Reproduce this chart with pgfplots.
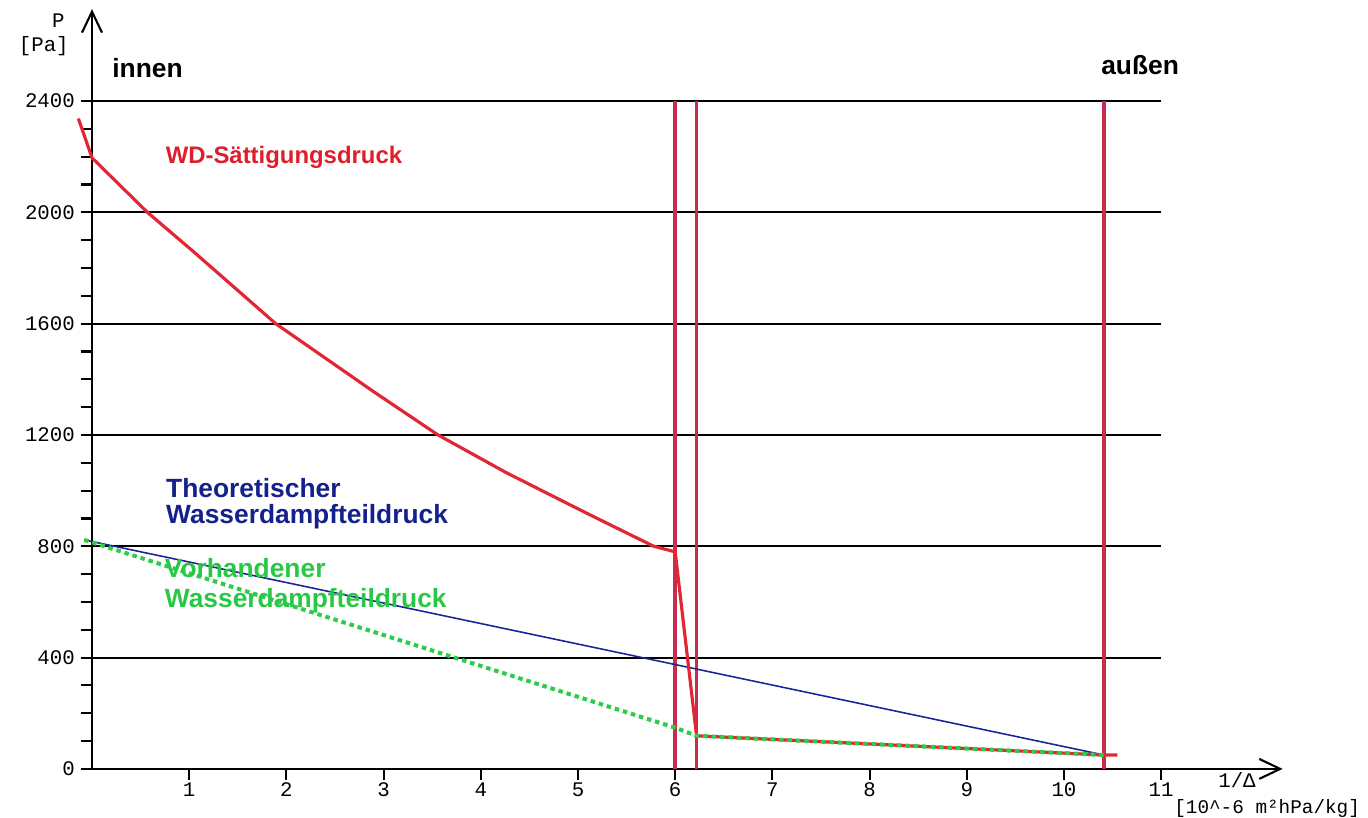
\documentclass[border=0pt]{standalone}
\usepackage{fontspec}
\setmainfont{Liberation Sans}
\setmonofont{Liberation Mono}
\usepackage{pgfplots}
\usepackage{pgfplotstable}
\pgfplotsset{compat=1.18}
\usetikzlibrary{arrows.meta}

\definecolor{satred}{RGB}{226,38,52}
\definecolor{layerred}{RGB}{200,45,80}
\definecolor{theoblue}{RGB}{28,38,150}
\definecolor{vorgreen}{RGB}{45,205,75}
\definecolor{lblred}{RGB}{222,30,42}
\definecolor{lblblue}{RGB}{20,32,140}
\definecolor{lblgreen}{RGB}{40,200,70}

\pgfplotstableread{
x y
-0.14 2337
0.00 2196
0.57 2000
1.04 1860
1.89 1600
2.90 1355
3.56 1200
4.26 1065
5.10 917
5.78 800
6.00 780
6.22 119
10.41 50
10.55 50
}\satdata

\pgfplotstableread{
x y
-0.08 823
10.41 50
}\theodata

\pgfplotstableread{
x y
-0.08 823
6.00 148
6.22 119
10.41 50
}\vordata

\begin{document}
\begin{tikzpicture}
\begin{axis}[
  scale only axis,
  width=23.814cm, height=15.195cm,
  xmin=0, xmax=12.25, ymin=0, ymax=2730,
  axis lines=left,
  axis line style={line width=1.3pt, -{Straight Barb[length=0.42cm,width=0.4cm,line width=1.2pt]}},
  xtick={1,2,...,11},
  ytick={0,400,...,2400},
  minor y tick num=3,
  tick align=outside,
  major tick length=0.22cm,
  minor tick length=0.22cm,
  tick style={line width=1.2pt, black},
  every tick label/.append style={font=\fontsize{11.8}{14}\selectfont\ttfamily},
  xticklabel style={inner sep=1.5pt},
  /pgf/number format/assume math mode=true,
  /pgf/number format/1000 sep={},
  clip=false,
]
% grid lines
\pgfplotsinvokeforeach{400,800,1200,1600,2000,2400}{
  \addplot[black, line width=1.1pt, forget plot] coordinates {(0,#1) (11,#1)};
}
% layer boundaries
\addplot[layerred, line width=2pt] coordinates {(6.00,0) (6.00,2400)};
\addplot[layerred, line width=2pt] coordinates {(6.22,0) (6.22,2400)};
\addplot[layerred, line width=2pt] coordinates {(10.41,0) (10.41,2400)};
% theoretical partial pressure
\addplot[theoblue, line width=0.9pt] table[x=x,y=y] {\theodata};
% saturation pressure
\addplot[satred, line width=1.8pt, line join=round] table[x=x,y=y] {\satdata};
% actual partial pressure
\addplot[vorgreen, line width=2.3pt, dash pattern=on 2.6pt off 2.2pt] table[x=x,y=y] {\vordata};

% texts
\node[anchor=base west, font=\bfseries\fontsize{15}{18}\selectfont] at (axis cs:0.146,2483) {innen};
\node[anchor=base west, font=\bfseries\fontsize{15}{18}\selectfont] at (axis cs:10.32,2496) {außen};
\node[anchor=base west, text=lblred, font=\bfseries\fontsize{13.6}{16}\selectfont] at (axis cs:0.695,2175) {WD-Sättigungsdruck};
\node[anchor=base west, text=lblblue, font=\bfseries\fontsize{15}{18}\selectfont] at (axis cs:0.70,974) {Theoretischer};
\node[anchor=base west, text=lblblue, font=\bfseries\fontsize{15}{18}\selectfont] at (axis cs:0.70,881) {Wasserdampfteildruck};
\node[anchor=base west, text=lblgreen, font=\bfseries\fontsize{15}{18}\selectfont] at (axis cs:0.686,687) {Vorhandener};
\node[anchor=base west, text=lblgreen, font=\bfseries\fontsize{15}{18}\selectfont] at (axis cs:0.686,579) {Wasserdampfteildruck};
\node[font=\fontsize{11.8}{14}\selectfont\ttfamily] at (axis cs:-0.347,2687) {P};
\node[font=\fontsize{11.8}{14}\selectfont\ttfamily] at (axis cs:-0.496,2597) {[Pa]};
\node[anchor=base, inner sep=0pt, font=\fontsize{11.8}{14}\selectfont\ttfamily] at (axis cs:11.78,-68) {1/Δ};
\node[anchor=base, inner sep=0pt, font=\fontsize{11}{13}\selectfont\ttfamily] at (axis cs:12.09,-158.5) {[10\textasciicircum-6 m²hPa/kg]};

\coordinate (BL) at (axis cs:-0.9465,-176);
\coordinate (TR) at (axis cs:13.128,2763);
\end{axis}
\pgfresetboundingbox
\path[use as bounding box] (BL) rectangle (TR);
\end{tikzpicture}
\end{document}
